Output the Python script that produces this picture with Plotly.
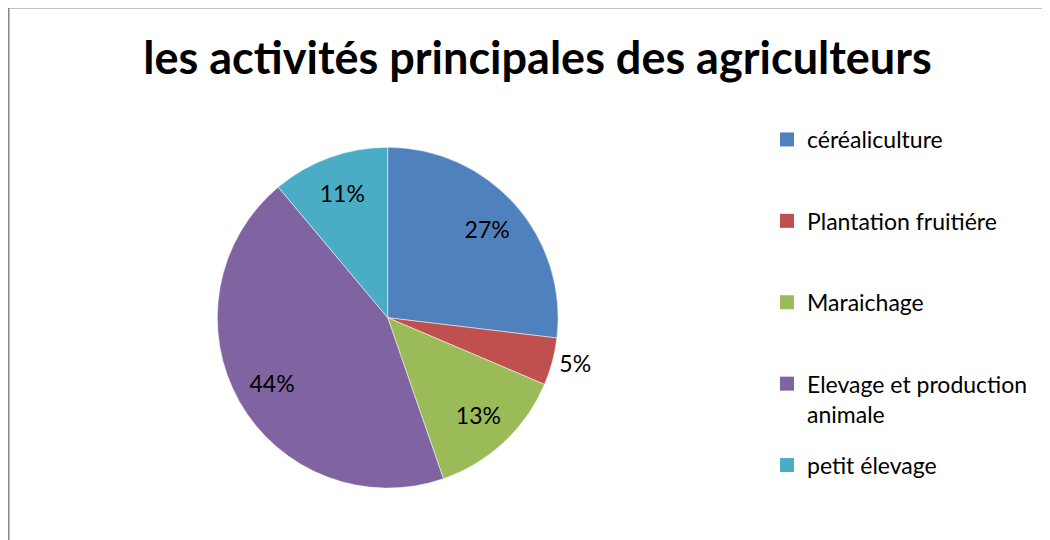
import plotly.graph_objects as go

categories = ["céréaliculture", "Plantation fruitiére", "Maraichage",
              "Elevage et production animale", "petit élevage"]
shares = [26.9, 4.5, 13.3, 44.2, 11.1]
pct_labels = ["27%", "5%", "13%", "44%", "11%"]
legend_names = ["céréaliculture<br> ", "Plantation fruitiére<br> ", "Maraichage<br> ",
                "Elevage et production<br>animale", "petit élevage"]
colors = ["#4F81BD", "#C0504D", "#9BBB59", "#8064A2", "#4BACC6"]

# the page puts the figure 8px in from the top-left corner
OFF = 8
W, H = 1050 - OFF, 540 - OFF
FONT = "Lato"


def px(x):
    return (x - OFF) / W


def py(y):
    return 1 - (y - OFF) / H


pie_dom = dict(x=[px(217.3), px(558.1)], y=[py(488.1), py(147.3)])

fig = go.Figure()
# coloured slices
fig.add_trace(go.Pie(
    labels=categories, values=shares, textinfo="none",
    sort=False, direction="clockwise", rotation=0,
    marker=dict(colors=colors, line=dict(color="white", width=0.5)),
    showlegend=False, hoverinfo="label+percent", domain=pie_dom,
))
# transparent ring on top that only carries the percentage labels,
# so they sit out towards the rim like in the original
fig.add_trace(go.Pie(
    labels=categories, values=shares, text=pct_labels,
    textinfo="text", sort=False, direction="clockwise", rotation=0, hole=0.56,
    marker=dict(colors=["rgba(0,0,0,0)"] * len(shares), line=dict(width=0)),
    textposition=["inside", "outside", "inside", "inside", "inside"],
    insidetextorientation="horizontal",
    textfont=dict(family=FONT, size=23, color="black"),
    showlegend=False, hoverinfo="skip", domain=pie_dom,
))

# legend entries as separate groups so the gap between them can be set
for i, (name, col) in enumerate(zip(legend_names, colors)):
    fig.add_trace(go.Scatter(
        x=[None], y=[None], mode="markers", name=name, legendgroup=str(i),
        marker=dict(symbol="square", size=14, color=col),
    ))

fig.add_shape(type="rect", xref="paper", yref="paper",
              x0=px(8.5), x1=1.05, y0=-0.05, y1=py(7.5),
              line=dict(color="#868686", width=2))

fig.update_xaxes(visible=False)
fig.update_yaxes(visible=False)
fig.update_layout(
    width=W, height=H,
    margin=dict(l=0, r=0, t=0, b=0),
    paper_bgcolor="white", plot_bgcolor="white",
    title=dict(text="<b>les activités principales des agriculteurs</b>",
               x=px(537.5), y=1 - 50 / H, xanchor="center", yanchor="middle",
               font=dict(family=FONT, size=45, color="black")),
    legend=dict(x=px(767), y=1 - 110 / H, xanchor="left", yanchor="top",
                traceorder="grouped", tracegroupgap=18.6, valign="top",
                font=dict(family=FONT, size=23, color="black"),
                bgcolor="rgba(0,0,0,0)"),
)

fig.write_html("out.html")
